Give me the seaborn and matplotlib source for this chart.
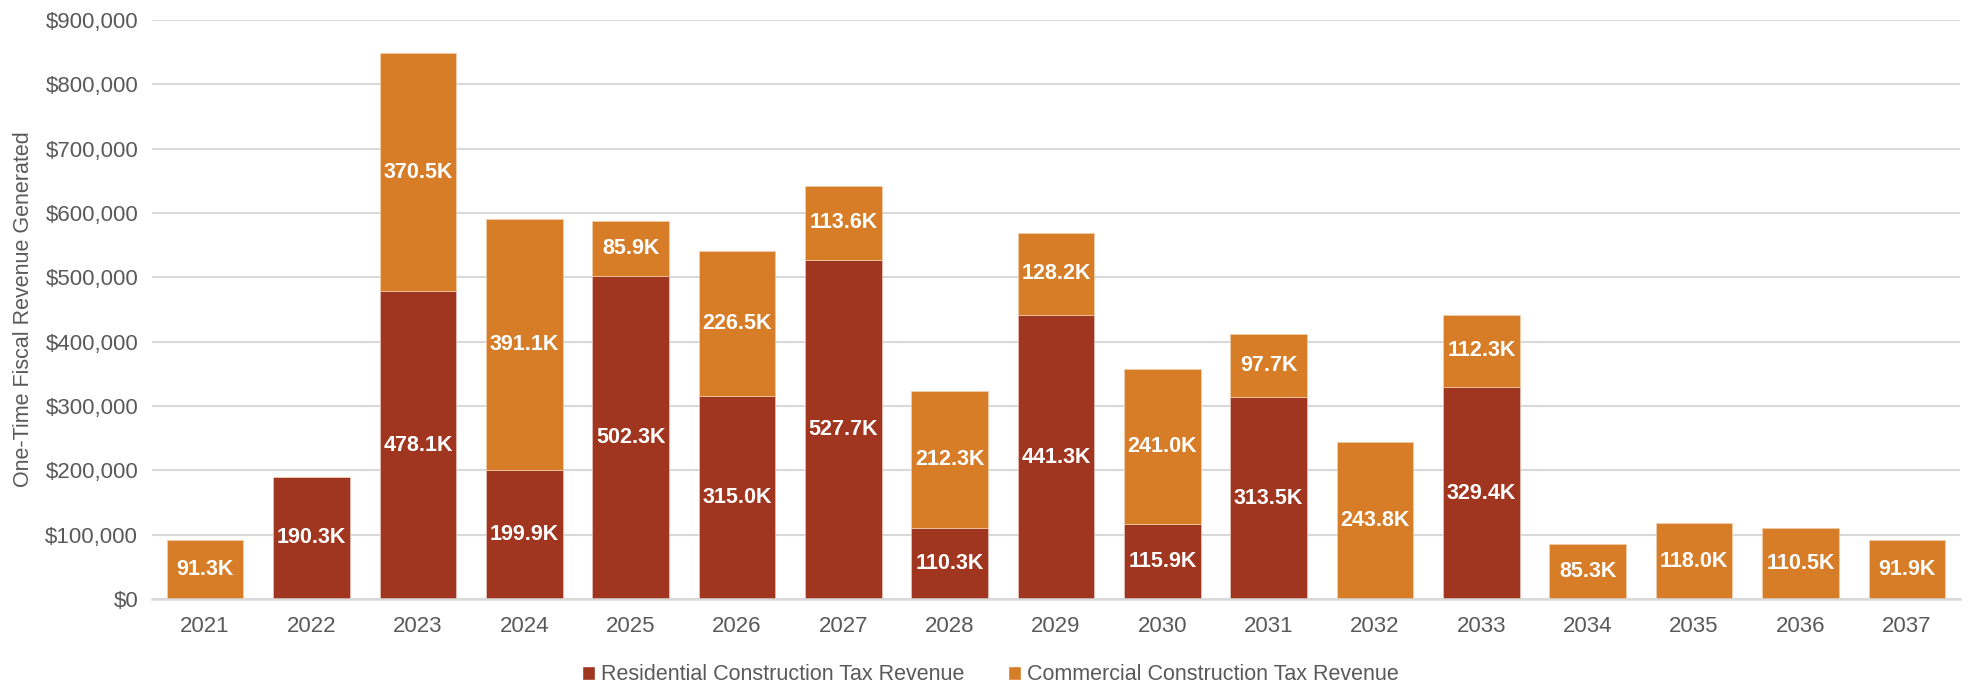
import matplotlib
matplotlib.use("Agg")
import matplotlib.pyplot as plt
from matplotlib.patches import Patch
from matplotlib.ticker import FuncFormatter
import seaborn as sns
import pandas as pd

years = [str(y) for y in range(2021, 2038)]
residential = [0, 190.3, 478.1, 199.9, 502.3, 315.0, 527.7, 110.3, 441.3,
               115.9, 313.5, 0, 329.4, 0, 0, 0, 0]          # thousands of $
commercial = [91.3, 0, 370.5, 391.1, 85.9, 226.5, 113.6, 212.3, 128.2,
              241.0, 97.7, 243.8, 112.3, 85.3, 118.0, 110.5, 91.9]  # thousands of $
series_names = ["Residential Construction Tax Revenue",
                "Commercial Construction Tax Revenue"]
y_label = "One-Time Fiscal Revenue Generated"

RES_COLOR = "#A0361F"
COM_COLOR = "#D77D28"
TEXT_GRAY = "#595959"
GRID_GRAY = "#D9D9D9"

sns.set_theme(style="white")
plt.rcParams["font.family"] = ["Liberation Sans Narrow", "Liberation Sans", "DejaVu Sans"]

df = pd.DataFrame({
    "year": years,
    "res": [v * 1000 for v in residential],
    "com": [v * 1000 for v in commercial],
})

fig = plt.figure(figsize=(19.69, 6.90), dpi=100)
ax = fig.add_axes([152 / 1969, 91 / 690, (1960 - 152) / 1969, (599 - 20) / 690])

sns.barplot(data=df, x="year", y="res", color=RES_COLOR, width=0.72,
            saturation=1, ax=ax, edgecolor="#E8C4BC", linewidth=0.5)
sns.barplot(data=df, x="year", y="com", color=COM_COLOR, width=0.72,
            saturation=1, ax=ax, bottom=df["res"].values,
            edgecolor="#F0CFAE", linewidth=0.5)

# value labels centred in each non-empty segment
for i, (r, c) in enumerate(zip(residential, commercial)):
    if r > 0:
        ax.text(i, r * 1000 / 2, f"{r:.1f}K", ha="center", va="center",
                color="white", fontsize=15.5, fontweight="bold")
    if c > 0:
        ax.text(i, r * 1000 + c * 1000 / 2, f"{c:.1f}K", ha="center",
                va="center", color="white", fontsize=15.5, fontweight="bold")

ax.set_ylim(0, 900000)
ax.set_xlim(-0.5, len(years) - 0.5)
ax.set_yticks(range(0, 900001, 100000))
ax.yaxis.set_major_formatter(FuncFormatter(lambda v, p: f"${v:,.0f}"))
ax.grid(axis="y", color=GRID_GRAY, linewidth=1.5)
ax.set_axisbelow(True)
for s in ["top", "right", "left"]:
    ax.spines[s].set_visible(False)
ax.spines["bottom"].set_color(GRID_GRAY)
ax.spines["bottom"].set_linewidth(1.8)
ax.tick_params(axis="both", length=0, labelsize=16, labelcolor=TEXT_GRAY)
ax.tick_params(axis="x", pad=12)
ax.tick_params(axis="y", pad=10)
ax.set_xlabel("")
ax.set_ylabel(y_label, fontsize=15.5, color=TEXT_GRAY, labelpad=8)

handles = [Patch(facecolor=RES_COLOR, label=series_names[0]),
           Patch(facecolor=COM_COLOR, label=series_names[1])]
fig.legend(handles=handles, loc="center", bbox_to_anchor=(0.503, 0.022),
           ncol=2, frameon=False, fontsize=15.5, labelcolor=TEXT_GRAY,
           handlelength=0.6, handleheight=0.6, handletextpad=0.3,
           columnspacing=2.0)

fig.savefig("out.png", dpi=100)
